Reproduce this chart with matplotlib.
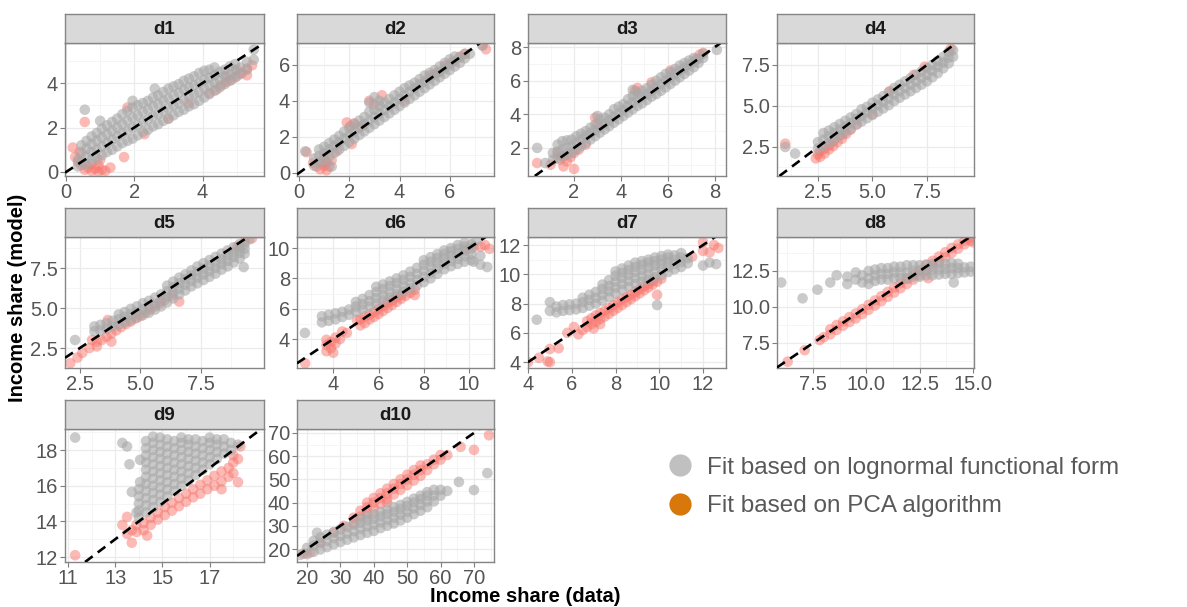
import numpy as np
import matplotlib
matplotlib.use("Agg")
import matplotlib.pyplot as plt
from matplotlib.lines import Line2D
from matplotlib.ticker import FixedLocator

plt.rcParams['font.family'] = ['Liberation Sans', 'DejaVu Sans']

# ---------------- data: (x, [y values at that x]) ----------------
d1_grey = [(0.35,[0.25,0.55]),(0.45,[0.45,0.85,1.2]),(0.6,[0.35,0.7,1.05,1.4]),(0.75,[0.55,0.9,1.25,1.6]),
           (0.9,[0.6,1.0,1.4,1.75]),(1.05,[0.75,1.15,1.55,1.95]),(1.2,[0.9,1.3,1.7,2.1]),(1.35,[1.0,1.45,1.85,2.25]),
           (1.5,[1.15,1.6,2.0,2.4]),(1.65,[1.3,1.75,2.15,2.6]),(1.8,[1.4,1.85,2.3,2.75]),(1.95,[1.5,2.0,2.45,2.9,3.2]),
           (2.1,[1.65,2.1,2.55,3.0]),(2.25,[1.8,2.25,2.7,3.1]),(2.4,[1.9,2.35,2.8,3.2]),(2.55,[2.05,2.5,2.95,3.35]),
           (2.7,[2.15,2.6,3.05,3.45]),(2.85,[2.3,2.75,3.2,3.6]),(3.0,[2.4,2.85,3.3,3.75]),(3.15,[2.55,3.0,3.45,3.85]),
           (3.3,[2.7,3.1,3.55,3.95]),(3.45,[2.8,3.25,3.7,4.1]),(3.6,[2.95,3.4,3.8,4.2]),(3.75,[3.05,3.5,3.9,4.3]),
           (3.9,[3.2,3.6,4.0,4.45]),(4.05,[3.35,3.75,4.15,4.55]),(4.2,[3.5,3.9,4.25,4.6]),(4.35,[3.65,4.0,4.35,4.7]),
           (4.5,[3.8,4.15,4.5]),(4.65,[3.95,4.3,4.6]),(4.8,[4.1,4.4,4.75]),(4.95,[4.25,4.55,4.85]),(5.1,[4.4,4.7]),
           (5.3,[4.6,4.95]),(5.5,[5.05,5.5]),(0.55,[2.8]),(2.6,[3.75]),(1.0,[2.3])]
d1_red = [(0.2,[1.1]),(0.27,[0.67]),(0.35,[0.45]),(0.45,[0.3]),(0.55,[0.1,2.25]),(0.65,[0.2]),(0.75,[0.05,0.35]),
          (0.85,[0.15]),(0.95,[0.0,0.3]),(1.05,[0.1]),(1.15,[0.05]),(1.3,[0.2]),(1.7,[0.67]),(1.8,[2.9]),(2.3,[1.7]),
          (3.0,[2.4]),(3.6,[3.1]),(4.2,[3.55]),(4.4,[3.7]),(4.55,[3.9]),(4.7,[4.05,4.3]),(4.85,[4.15]),(5.0,[4.3,4.6]),
          (5.15,[4.45]),(5.3,[4.35,4.65]),(5.45,[4.8]),(0.4,[0.9]),(1.0,[0.55])]

d2_grey = [(0.6,[0.4,0.8]),(0.8,[0.55,0.95,1.3]),(1.0,[0.7,1.1,1.45]),(1.2,[0.9,1.3,1.65]),(1.4,[1.1,1.5,1.85]),
           (1.6,[1.3,1.7,2.05]),(1.8,[1.5,1.9,2.3]),(2.0,[1.7,2.1,2.5]),(2.2,[1.9,2.3,2.7]),(2.4,[2.1,2.5,2.9]),
           (2.6,[2.3,2.7,3.1]),(2.8,[2.5,2.9,3.4,3.9]),(3.0,[2.7,3.1,3.5,4.2]),(3.2,[2.9,3.3,3.7,4.0]),(3.4,[3.1,3.5,3.9]),
           (3.6,[3.3,3.7,4.1]),(3.8,[3.5,3.9,4.3]),(4.0,[3.7,4.1,4.5]),(4.2,[3.9,4.3,4.7]),(4.4,[4.1,4.5,4.85]),
           (4.6,[4.3,4.7,5.0]),(4.8,[4.5,4.9,5.2]),(5.0,[4.7,5.05,5.4]),(5.2,[4.9,5.25,5.55]),(5.4,[5.1,5.45,5.7]),
           (5.6,[5.3,5.6,5.9]),(5.8,[5.5,5.8,6.1]),(6.0,[5.7,6.0,6.3]),(6.2,[5.9,6.2,6.45]),(6.4,[6.1,6.4]),
           (6.6,[6.35,6.6]),(6.8,[6.6]),(7.3,[7.05]),(0.25,[1.2]),(1.3,[0.35])]
d2_red = [(0.56,[0.55]),(0.7,[0.35]),(0.85,[0.6,0.2]),(1.0,[0.4,0.9]),(1.1,[0.15,0.6]),(1.2,[0.35]),(1.3,[0.7]),
          (1.5,[1.2]),(0.3,[1.15]),(1.9,[2.8]),(2.05,[2.6]),(2.2,[2.75]),(2.5,[2.6]),(2.8,[4.0]),(3.0,[3.8]),(3.3,[4.3]),
          (4.2,[4.0]),(5.2,[5.4]),(5.5,[5.55]),(5.8,[5.95]),(6.1,[6.15]),(6.4,[6.45]),(6.6,[6.6]),(7.44,[6.85]),
          (7.3,[7.1]),(2.1,[1.6])]

d3_grey = [(0.43,[2.0]),(0.77,[1.1]),(1.1,[1.3,1.7]),(1.3,[1.4,1.8,2.2]),(1.5,[1.5,1.9,2.4]),(1.7,[1.6,2.0,2.45]),
           (1.9,[1.7,2.1,2.5]),(2.1,[1.9,2.3,2.7]),(2.3,[2.1,2.5,2.85]),(2.5,[2.3,2.7,3.0]),(2.7,[2.5,2.9,3.2]),
           (2.9,[2.7,3.05,3.4]),(3.1,[2.9,3.25,3.7]),(3.3,[3.1,3.45,3.8]),(3.5,[3.3,3.65,4.0]),(3.7,[3.5,3.85,4.3]),
           (3.9,[3.7,4.05,4.45]),(4.1,[3.9,4.25,4.6]),(4.3,[4.1,4.5,4.9]),(4.5,[4.3,4.7,5.1,5.45]),(4.7,[4.5,4.9,5.25]),
           (4.9,[4.65,5.05,5.4]),(5.1,[4.85,5.2,5.55]),(5.3,[5.05,5.4,5.75]),(5.5,[5.2,5.6,6.0]),(5.7,[5.4,5.8,6.2]),
           (5.9,[5.6,6.0,6.4]),(6.1,[5.8,6.2,6.5]),(6.3,[6.0,6.4,6.7]),(6.5,[6.2,6.6,6.9]),(6.7,[6.4,6.75,7.05]),
           (6.9,[6.6,6.95,7.2]),(7.1,[6.8,7.1,7.35]),(7.3,[7.05,7.3]),(7.5,[7.35,7.6]),(8.08,[7.83]),(3.0,[3.9])]
d3_red = [(0.43,[1.1]),(1.3,[1.7]),(1.4,[1.3]),(1.55,[0.9,1.5]),(1.7,[1.2]),(1.85,[1.45]),(2.0,[0.75,1.7]),
          (2.2,[1.9]),(2.5,[2.2]),(3.0,[3.4]),(2.9,[3.8]),(4.7,[5.57]),(4.6,[5.4]),(5.3,[5.9]),(7.2,[7.3]),
          (7.35,[7.55]),(7.5,[7.65]),(6.1,[6.6]),(1.0,[1.0])]

d4_grey = [(1.45,[2.1]),(1.0,[2.5]),(2.5,[2.4,2.8]),(2.75,[2.55,2.95,3.35]),(3.0,[2.75,3.15,3.5]),(3.25,[2.95,3.35,3.7]),
           (3.5,[3.2,3.55,3.9]),(3.75,[3.4,3.75,4.1]),(4.0,[3.6,3.95,4.3]),(4.25,[3.85,4.2,4.5]),(4.5,[4.05,4.4,4.8]),
           (4.75,[4.25,4.6,4.95]),(5.0,[4.45,4.85,5.2]),(5.25,[4.65,5.05,5.4]),(5.5,[4.85,5.25,5.6]),
           (5.75,[5.05,5.45,5.85]),(6.0,[5.3,5.7,6.1]),(6.25,[5.5,5.9,6.3]),(6.5,[5.7,6.1,6.5]),(6.75,[5.9,6.3,6.7]),
           (7.0,[6.1,6.5,6.9]),(7.25,[6.3,6.7,7.1]),(7.5,[6.5,6.9,7.3]),(7.75,[6.75,7.15,7.5]),(8.0,[7.0,7.4,7.75]),
           (8.25,[7.3,7.65,8.0]),(8.5,[7.6,7.95,8.3]),(8.7,[8.0,8.4])]
d4_red = [(1.0,[2.7]),(2.4,[1.8]),(2.5,[2.05]),(2.6,[1.9,2.25]),(2.8,[2.1,2.4]),(3.0,[2.35,2.6]),(3.2,[2.55,2.85]),
          (3.4,[2.8]),(3.6,[3.0,3.25]),(3.8,[3.3]),(4.0,[3.55]),(4.3,[3.9]),(5.0,[4.5]),(6.9,[6.9]),(7.4,[7.4]),
          (8.6,[8.5]),(5.8,[5.9])]

d5_grey = [(2.3,[3.0]),(3.1,[3.55,3.85]),(3.35,[3.6,3.95]),(3.6,[3.7,4.05]),(3.85,[3.85,4.2]),(4.1,[3.95,4.3,4.6]),
           (4.35,[4.1,4.45,4.75]),(4.6,[4.25,4.6,4.95]),(4.85,[4.4,4.75,5.1]),(5.1,[4.55,4.9,5.3]),
           (5.35,[4.7,5.05,5.45]),(5.6,[4.9,5.25,5.65]),(5.85,[5.1,5.45,5.85]),(6.1,[5.35,5.7,6.05,6.4]),
           (6.35,[5.6,5.95,6.3,6.65]),(6.6,[5.85,6.2,6.55,6.9]),(6.85,[6.1,6.45,6.8,7.1]),(7.1,[6.35,6.7,7.05,7.35]),
           (7.35,[6.55,6.9,7.25,7.6]),(7.6,[6.75,7.1,7.45,7.8]),(7.85,[6.95,7.3,7.65,8.0]),(8.1,[7.15,7.5,7.85,8.2]),
           (8.35,[7.4,7.75,8.05,8.4]),(8.6,[7.6,7.95,8.3,8.6]),(8.85,[7.85,8.2,8.5,8.8]),(9.1,[8.1,8.45,8.75,9.0]),
           (9.3,[8.4,8.7,9.0]),(9.5,[9.3]),(9.26,[7.56])]
d5_red = [(2.1,[1.55]),(2.4,[1.9]),(2.6,[2.2]),(2.9,[2.5]),(3.2,[2.6,2.9]),(3.4,[3.0]),(3.6,[3.2]),(3.8,[2.9,3.4]),
          (3.65,[4.25]),(4.0,[3.6]),(4.2,[3.8]),(4.4,[4.0]),(4.6,[4.15]),(4.8,[4.35]),(5.0,[4.5]),(5.2,[4.7]),
          (5.4,[4.9]),(5.6,[5.1]),(5.8,[5.3]),(6.0,[5.5]),(6.6,[5.4]),(6.3,[5.8]),(9.0,[8.85]),(9.3,[9.15]),
          (9.6,[9.35]),(3.0,[3.0])]

d6_grey = [(2.75,[4.4]),(3.5,[5.1,5.5]),(3.8,[5.2,5.6]),(4.1,[5.3,5.7]),(4.4,[5.45,5.8]),(4.7,[5.6,5.95]),
           (5.0,[5.8,6.15,6.45]),(5.3,[5.95,6.3,6.65]),(5.6,[6.15,6.5,6.9]),(5.9,[6.35,6.7,7.1,7.45]),
           (6.2,[6.55,6.9,7.3,7.6]),(6.5,[6.75,7.1,7.5,7.8]),(6.8,[6.95,7.3,7.7,8.0]),(7.1,[7.15,7.5,7.9,8.2]),
           (7.4,[7.35,7.7,8.1,8.45]),(7.7,[7.55,7.9,8.3,8.7]),(8.0,[7.75,8.1,8.5,8.9,9.2]),
           (8.3,[8.0,8.35,8.75,9.1,9.4]),(8.6,[8.3,8.65,9.0,9.35,9.6]),(8.9,[8.6,8.95,9.3,9.6,9.85]),
           (9.2,[8.8,9.15,9.5,9.8,10.0]),(9.5,[8.95,9.3,9.65,9.95,10.2]),(9.8,[9.1,9.45,9.8,10.1,10.35]),
           (10.1,[9.2,9.6,9.95,10.25]),(10.2,[9.1]),(10.5,[8.9,9.5]),(10.8,[8.75]),(10.3,[10.45])]
d6_red = [(2.76,[2.4]),(3.7,[3.2,3.6,3.95]),(3.9,[3.4,3.8]),(4.0,[3.1]),(4.1,[3.7,4.1]),(4.4,[4.5]),(4.3,[4.0]),
          (4.6,[4.4]),(5.05,[5.25]),(5.2,[4.9,5.3]),(5.4,[5.05,5.5]),(5.6,[5.3,5.6]),(5.8,[5.45,5.8]),(6.0,[5.65,6.0]),
          (6.2,[5.85,6.2]),(6.4,[6.05,6.4]),(6.6,[6.25,6.55]),(6.8,[6.45,6.75]),(7.0,[6.65,6.9]),(7.2,[6.85]),
          (7.4,[7.05]),(7.6,[6.9,7.25]),(10.2,[10.07]),(10.5,[10.1]),(10.9,[9.95]),(10.7,[10.2]),(9.8,[9.9])]

d7_grey = [(4.4,[6.9]),(5.0,[7.5,8.1]),(5.3,[7.4,7.8]),(5.6,[7.5,7.9]),(5.9,[7.55,7.95]),(6.2,[7.6,8.0]),
           (6.5,[7.7,8.1,8.4]),(6.8,[7.85,8.25,8.6]),(7.1,[8.0,8.4,8.8]),(7.4,[8.2,8.6,9.0,9.3]),(7.7,[8.45,8.85,9.2,9.6]),
           (8.0,[8.7,9.1,9.5,9.9,10.2]),(8.3,[8.95,9.35,9.75,10.1,10.4]),(8.6,[9.15,9.55,9.95,10.3,10.6]),
           (8.9,[9.35,9.75,10.15,10.5,10.8]),(9.2,[9.5,9.9,10.3,10.65,10.9]),(9.5,[9.65,10.05,10.45,10.8,11.0]),
           (9.8,[9.8,10.2,10.6,10.9,11.15]),(10.1,[9.95,10.35,10.7,11.0,11.25]),(10.4,[10.15,10.5,10.85,11.15,11.35]),
           (10.7,[10.35,10.7,11.0,11.3]),(11.0,[10.5,10.85,11.15,11.45]),(11.3,[10.75,11.1]),(9.9,[7.9]),
           (12.0,[10.6]),(12.3,[10.8]),(12.6,[10.7])]
d7_red = [(4.0,[4.0]),(4.5,[4.3]),(4.9,[4.05]),(5.0,[4.0,4.9]),(5.4,[4.95]),(5.8,[6.0]),(6.1,[6.4]),(6.3,[5.9]),
          (6.5,[6.2]),(6.7,[6.4,6.8]),(6.9,[6.6,7.0]),(7.0,[6.3]),(7.1,[6.75,7.2]),(7.3,[6.6,6.95,7.35]),(7.5,[7.1,7.5]),
          (7.7,[7.3,7.7]),(7.9,[7.5,7.9]),(8.1,[7.7,8.1]),(8.3,[7.9,8.3]),(8.5,[8.1,8.45]),(8.7,[8.3,8.6]),
          (8.9,[8.5,8.8]),(9.1,[8.7,9.0]),(9.3,[8.9,9.2]),(9.5,[9.1,9.35]),(9.7,[9.3,9.55]),(9.9,[8.6,9.5]),
          (10.1,[9.7]),(11.5,[11.2]),(12.0,[12.2,11.6]),(12.3,[11.5]),(12.5,[12.0]),(12.7,[11.8])]

d8_grey = [(6.0,[11.7]),(7.0,[10.6]),(7.7,[11.2]),(8.3,[11.7]),(8.6,[12.2]),(9.1,[12.1,11.6]),(9.5,[11.9,12.4]),
           (9.8,[11.7,12.2]),(10.1,[11.6,12.0,12.5]),(10.4,[11.8,12.2,12.6]),(10.7,[11.9,12.3,12.7]),
           (11.0,[11.9,12.3,12.7]),(11.3,[12.0,12.4,12.8]),(11.6,[12.0,12.4,12.8]),(11.9,[12.0,12.4,12.9]),
           (12.2,[12.1,12.5,12.9]),(12.5,[12.1,12.5,12.9]),(12.8,[12.2,12.55,12.95]),(13.1,[12.2,12.6,13.0]),
           (13.4,[12.25,12.6,13.0]),(13.7,[12.3,12.65,13.0]),(14.0,[12.3,12.7,13.05]),(14.3,[12.35,12.7,13.0]),
           (14.6,[12.4,12.75]),(14.9,[12.45,12.8]),(15.2,[12.5]),(14.1,[11.7])]
d8_red = [(6.3,[6.2]),(7.1,[7.0]),(7.8,[7.7]),(8.0,[7.9]),(8.3,[8.1,8.45]),(8.6,[8.4,8.75]),(8.9,[8.7,9.0]),
          (9.2,[8.95,9.3]),(9.5,[9.2,9.55]),(9.8,[9.5,9.85]),(10.1,[9.8,10.15]),(10.4,[10.1,10.45]),
          (10.7,[10.4,10.75]),(11.0,[10.7,11.05]),(11.3,[11.0,11.35]),(11.6,[11.3,11.65]),(11.9,[11.6,11.95]),
          (12.2,[11.9,12.25]),(12.5,[12.2,12.55]),(12.8,[12.55,12.9]),(13.1,[12.85,13.2]),(13.4,[13.15,13.5]),
          (13.7,[13.45,13.8]),(14.0,[13.75,14.1]),(14.3,[14.05,14.35]),(14.6,[14.35,14.6]),(14.9,[14.6,14.8]),
          (12.9,[12.0]),(15.0,[14.5])]

d9_grey = [(14.0,[14.2,14.6,15.0,15.4,15.8]),
           (14.3,[14.5,14.9,15.3,15.7,16.1,16.5,16.9,17.3,17.7,18.1,18.5]),
           (14.6,[14.8,15.2,15.6,16.0,16.4,16.8,17.2,17.6,18.0,18.4,18.75]),
           (14.9,[15.1,15.5,15.9,16.3,16.7,17.1,17.5,17.9,18.3,18.7]),
           (15.2,[15.4,15.8,16.2,16.6,17.0,17.4,17.8,18.2,18.6]),
           (15.5,[15.7,16.1,16.5,16.9,17.3,17.7,18.1,18.5]),
           (15.8,[16.0,16.4,16.8,17.2,17.6,18.0,18.4,18.7]),
           (16.1,[16.3,16.7,17.1,17.5,17.9,18.3,18.6]),
           (16.4,[16.6,17.0,17.4,17.8,18.2,18.6]),
           (16.7,[16.9,17.3,17.7,18.1,18.5]),
           (17.0,[17.2,17.6,18.0,18.4,18.7]),
           (17.3,[17.5,17.9,18.3,18.6]),
           (17.6,[17.8,18.2,18.6]),
           (17.9,[18.0,18.4]),
           (18.2,[18.3]),
           (11.3,[18.7]),(13.3,[18.4]),(13.5,[18.2]),(13.6,[17.2]),(14.05,[17.45,16.2]),(13.7,[15.65]),(13.9,[14.5])]
d9_red = [(13.3,[13.8]),(13.5,[14.25,13.3]),(13.7,[12.8,13.5]),(13.9,[13.4,13.8]),(14.2,[13.5,13.9]),
          (14.5,[13.8,14.2]),(14.8,[14.1,14.5]),(15.1,[14.35,14.8]),(15.4,[14.6,15.05]),(15.7,[14.85,15.3]),
          (16.0,[15.1,15.55]),(16.3,[15.35,15.8]),(16.6,[15.55,16.05]),(16.9,[15.8,16.3]),(17.2,[16.0,16.55]),
          (17.5,[15.8,16.25,16.8]),(17.8,[16.5,17.0]),(18.0,[16.7,17.3,17.7]),(18.2,[16.2,17.5]),(18.3,[18.2]),
          (11.3,[12.1]),(14.35,[13.2])]

d10_grey = [(18,[17.5]),(20,[17.8,20.5]),(22,[18.8,21.5,23.5]),(24,[19.8,22.5,25]),(26,[20.8,23.5,26.2]),
            (28,[22,24.7,27.3]),(30,[23,25.7,28.5]),(32,[24,26.7,29.5]),(34,[25,27.7,30.5]),(36,[26,28.7,31.3,33]),
            (38,[27,29.7,32.3,34]),(40,[27.8,30.5,33,35]),(42,[29,31.5,34,36]),(44,[30,32.5,35,37]),
            (46,[31,33.5,36,38]),(48,[32.3,34.8,37.2,39]),(50,[33.5,36,38.5,40.3]),(52,[35,37.5,40,41.7]),
            (54,[36.5,39,41.5,43]),(56,[38,40.5,43,44.5]),(58,[40.5,43,45.5]),(60,[43,45.5]),(62,[45]),
            (23,[27]),(65.5,[48.9]),(70,[45.4]),(74,[52.7])]
d10_red = [(19,[18]),(21,[18.5]),(24,[23]),(28,[27]),(31,[30]),(34,[31,33.5]),(36,[34,36.5]),(38,[35.5,38,40]),
           (40,[37.5,40,42]),(42,[39.5,42,44]),(44,[40,41.5,44,46]),(46,[43.5,46,48]),(48,[45.5,48,50]),
           (50,[47.5,50,52]),(52,[49.5,52,54]),(54,[51.5,54,56]),(56,[54,56.5]),(58,[56.5,58.5]),(60,[58.5,60.5]),
           (62,[60.5]),(66,[64]),(70,[62.7]),(74.5,[69])]

panel_titles = ["d1","d2","d3","d4","d5","d6","d7","d8","d9","d10"]
x_ticks = [[0,2,4],[0,2,4,6],[0,2,4,6,8],[2.5,5.0,7.5],[2.5,5.0,7.5],[4,6,8,10],[4,6,8,10,12],
           [7.5,10.0,12.5,15.0],[11,13,15,17],[20,30,40,50,60,70]]
y_ticks = [[0,2,4],[0,2,4,6],[2,4,6,8],[2.5,5.0,7.5],[2.5,5.0,7.5],[4,6,8,10],[4,6,8,10,12],
           [7.5,10.0,12.5],[12,14,16,18],[20,30,40,50,60,70]]
x_lims = [(-0.03,5.8),(-0.08,7.76),(0.04,8.47),(0.62,9.66),(1.885,10.1),(2.4,11.1),(4.0,13.05),(5.8,15.05),
          (10.87,19.3),(17,76)]
y_lims = [(-0.18,5.8),(-0.17,7.2),(0.33,8.24),(0.73,8.84),(1.25,9.44),(2.09,10.73),(3.6,12.55),(5.76,14.86),
          (11.72,19.18),(14.4,71.7)]
grey_sets = [d1_grey,d2_grey,d3_grey,d4_grey,d5_grey,d6_grey,d7_grey,d8_grey,d9_grey,d10_grey]
red_sets = [d1_red,d2_red,d3_red,d4_red,d5_red,d6_red,d7_red,d8_red,d9_red,d10_red]
legend_labels = ["Fit based on lognormal functional form", "Fit based on PCA algorithm"]

# ---------------- layout (pixels) ----------------
W, H = 1187, 607
col_px = [(65, 264), (297, 494), (528, 726), (777, 974)]
row_px = [(43, 176), (237, 368), (429, 562)]
strip_h = 29

GREY = '#A8A8A8'
RED = '#F8766D'
BORDER = '#858585'
TICKC = '#555555'


def expand(cols):
    xs, ys = [], []
    for x, yl in cols:
        for y in yl:
            xs.append(x)
            ys.append(y)
    return np.array(xs), np.array(ys)


def rect(l, t, r, b):
    return [l / W, 1 - b / H, (r - l) / W, (b - t) / H]


fig = plt.figure(figsize=(W / 100, H / 100), dpi=100)

for i in range(10):
    row, col = divmod(i, 4)
    l, r = col_px[col]
    t, b = row_px[row]
    ax = fig.add_axes(rect(l, t, r, b))
    ax.set_facecolor('white')
    ax.set_xlim(*x_lims[i])
    ax.set_ylim(*y_lims[i])
    xt, yt = x_ticks[i], y_ticks[i]
    dx, dy = xt[1] - xt[0], yt[1] - yt[0]
    ax.xaxis.set_major_locator(FixedLocator(xt))
    ax.yaxis.set_major_locator(FixedLocator(yt))
    xm = [xt[0] - dx / 2] + [v + dx / 2 for v in xt]
    ym = [yt[0] - dy / 2] + [v + dy / 2 for v in yt]
    ax.xaxis.set_minor_locator(FixedLocator(xm))
    ax.yaxis.set_minor_locator(FixedLocator(ym))
    fmt = (lambda v: f"{v:.1f}") if isinstance(xt[0], float) else (lambda v: f"{v:g}")
    fmty = (lambda v: f"{v:.1f}") if isinstance(yt[0], float) else (lambda v: f"{v:g}")
    ax.set_xticklabels([fmt(v) for v in xt])
    ax.set_yticklabels([fmty(v) for v in yt])
    ax.grid(which='major', color='#EBEBEB', lw=0.9, zorder=0)
    ax.grid(which='minor', color='#F4F4F4', lw=0.6, zorder=0)
    ax.set_axisbelow(True)
    ax.tick_params(which='major', length=3.5, width=0.8, color='#7F7F7F', labelsize=14.5,
                   labelcolor=TICKC, pad=1.5)
    ax.tick_params(which='minor', length=0)
    for s in ax.spines.values():
        s.set_color(BORDER)
        s.set_linewidth(1.0)
    rx, ry = expand(red_sets[i])
    gx, gy = expand(grey_sets[i])
    ax.scatter(rx, ry, s=58, color=RED, alpha=0.5, edgecolors='none', zorder=2)
    ax.scatter(gx, gy, s=58, color=GREY, alpha=0.6, edgecolors='none', zorder=3)
    ax.axline((x_lims[i][0], x_lims[i][0]), slope=1, color='black', lw=1.9,
              linestyle=(0, (3.6, 2.4)), zorder=4)

    sax = fig.add_axes(rect(l, t - strip_h, r, t))
    sax.set_facecolor('#D9D9D9')
    sax.set_xticks([])
    sax.set_yticks([])
    for s in sax.spines.values():
        s.set_color(BORDER)
        s.set_linewidth(1.0)
    sax.text(0.5, 0.47, panel_titles[i], ha='center', va='center', fontsize=13.5,
             fontweight='bold', color='#1A1A1A', transform=sax.transAxes)

fig.text(18 / W, 1 - 298 / H, "Income share (model)", rotation=90, ha='center', va='center',
         fontsize=14.5, fontweight='bold', color='black')
fig.text(525 / W, 1 - 597 / H, "Income share (data)", ha='center', va='center',
         fontsize=14.5, fontweight='bold', color='black')

handles = [Line2D([], [], marker='o', ls='', ms=16, mfc='#C0C0C0', mec='none'),
           Line2D([], [], marker='o', ls='', ms=16, mfc='#D9780A', mec='none')]
fig.legend(handles, legend_labels, loc='center left', bbox_to_anchor=(668 / W, 1 - 487 / H),
           frameon=False, fontsize=17.5, labelcolor='#595959', handlelength=1.0,
           handletextpad=0.6, labelspacing=0.67, borderpad=0, borderaxespad=0)

fig.savefig("out.png", dpi=100)
